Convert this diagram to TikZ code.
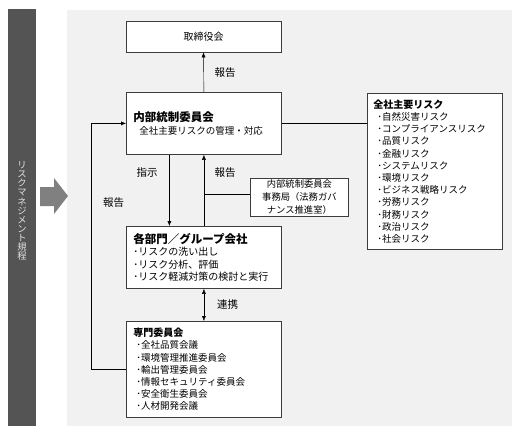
\documentclass[tikz,border=0pt]{standalone}
\usepackage{fontspec}
\setmainfont{Noto Sans CJK JP}
\usetikzlibrary{arrows.meta}
\definecolor{barcol}{HTML}{545454}
\definecolor{bartext}{HTML}{E2E2E2}
\definecolor{panelcol}{HTML}{F1F1F1}
\definecolor{edgecol}{HTML}{3C3C3C}
\definecolor{pointcol}{HTML}{808080}
\tikzset{
    box/.style={draw=edgecol, fill=white, line width=0.8pt, inner xsep=7pt, inner ysep=2pt, align=left},
    arr/.style={-{Latex[length=5pt,width=4pt]}},
    lbl/.style={font=\fontsize{10.5}{12}\selectfont},
    itemtext/.style={font=\fontsize{9.5}{12.2}\selectfont}
}
\newcommand{\ttl}[1]{{\bfseries\fontsize{11.5}{13}\selectfont #1}}
\newcommand{\subttl}[1]{{\bfseries\fontsize{10}{12}\selectfont #1}}

\begin{document}
\begin{tikzpicture}[x=1pt, y=-1pt]
    \useasboundingbox (0,0) rectangle (521,433);
    % фон
    \fill[barcol] (8,9) rectangle (36,426);
    \fill[panelcol] (67,10) rectangle (512,426);
    \fill[pointcol] (40,187) -- (54,187) -- (54,178) -- (68,196) -- (54,214) -- (54,206) -- (40,206) -- cycle;
    \node[text=bartext, align=center, font=\fontsize{9.3}{9.1}\selectfont] (kitei) at (22,211)
        {リ\\ス\\ク\\マ\\ネ\\ジ\\メ\\ン\\ト\\規\\程};

    \node[box, minimum width=155pt, minimum height=31pt, align=center, font=\fontsize{10}{12}\selectfont] (torishimari) at (203.5,36.5) {取締役会};
    \node[box, itemtext, anchor=north west, text width=141pt, minimum height=62pt] (naibu) at (126,92)
        {\ttl{内部統制委員会}\\ \hspace*{6pt}全社主要リスクの管理・対応};
    \node[box, anchor=north west, text width=141pt, minimum height=62pt, font=\fontsize{10}{12.2}\selectfont] (kakubu) at (126,226)
        {\ttl{各部門／グループ会社}\\ ･リスクの洗い出し\\ ･リスク分析、評価\\ ･リスク軽減対策の検討と実行};
    \node[box, itemtext, anchor=north west, text width=141pt, minimum height=96pt] (senmon) at (126,321)
        {\subttl{専門委員会}\\ \hspace*{3pt}･全社品質会議\\ \hspace*{3pt}･環境管理推進委員会\\ \hspace*{3pt}･輸出管理委員会\\
         \hspace*{3pt}･情報セキュリティ委員会\\ \hspace*{3pt}･安全衛生委員会\\ \hspace*{3pt}･人材開発会議};
    \node[box, itemtext, anchor=north west, text width=123pt, inner xsep=6pt, minimum height=156pt] (zensha) at (367,93)
        {\subttl{全社主要リスク}\\ \hspace*{4pt}･自然災害リスク\\ \hspace*{4pt}･コンプライアンスリスク\\ \hspace*{4pt}･品質リスク\\
         \hspace*{4pt}･金融リスク\\ \hspace*{4pt}･システムリスク\\ \hspace*{4pt}･環境リスク\\ \hspace*{4pt}･ビジネス戦略リスク\\
         \hspace*{4pt}･労務リスク\\ \hspace*{4pt}･財務リスク\\ \hspace*{4pt}･政治リスク\\ \hspace*{4pt}･社会リスク};
    \node[box, anchor=north west, text width=90pt, inner xsep=4pt, inner ysep=1pt, minimum height=38pt, align=center,
        font=\fontsize{9.3}{13}\selectfont] (jimu) at (250,178)
        {内部統制委員会\\事務局（法務ガバ\\ナンス推進室）};

    % связи
    \draw[arr] (naibu.north) -- (torishimari.south);
    \draw[arr] ([xshift=-34.5pt]naibu.south) -- ([xshift=-34.5pt]kakubu.north);
    \draw[arr] (kakubu.north) -- (naibu.south);
    \draw ([yshift=3pt]jimu.west) -- ([yshift=3pt]jimu.west -| kakubu.north);
    \draw[{Latex[length=5pt,width=4pt]}-{Latex[length=5pt,width=4pt]}] (kakubu.south) -- (senmon.north);
    \draw[arr] (senmon.west) -- ++(-35,0) |- (naibu.west);
    \draw (naibu.east) -- (naibu.east -| zensha.west);

    \node[lbl] (hokokuA) at (225,73) {報告};
    \node[lbl] (shiji) at (147,173) {指示};
    \node[lbl] (hokokuB) at (225,173) {報告};
    \node[lbl] (hokokuC) at (113.5,203) {報告};
    \node[lbl] (renkei) at (227.5,304.5) {連携};
\end{tikzpicture}
\end{document}
